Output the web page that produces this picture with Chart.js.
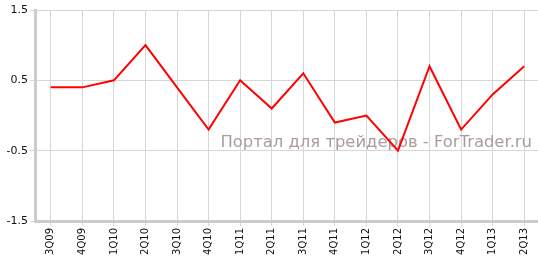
<!DOCTYPE html>
<html>
<head>
<meta charset="utf-8">
<script src="https://cdn.jsdelivr.net/npm/chart.js@4/dist/chart.umd.min.js"></script>
<style>
html,body{margin:0;padding:0;background:#fff;overflow:hidden;}
#wrap{width:540px;height:261px;}
</style>
</head>
<body>
<div id="wrap"><canvas id="c" width="540" height="261"></canvas></div>
<script>
const categories = ["3Q09","4Q09","1Q10","2Q10","3Q10","4Q10","1Q11","2Q11","3Q11","4Q11","1Q12","2Q12","3Q12","4Q12","1Q13","2Q13"];
const values = [0.4,0.4,0.5,1.0,0.4,-0.2,0.5,0.1,0.6,-0.1,0.0,-0.5,0.7,-0.2,0.3,0.7];
const yTicks = [-1.5,-0.5,0.5,1.5];
const watermark = "Портал для трейдеров - ForTrader.ru";

const watermarkPlugin = {
  id: 'watermark',
  beforeDatasetsDraw(chart) {
    const ctx = chart.ctx;
    ctx.save();
    ctx.font = '16.4px "DejaVu Sans"';
    ctx.fillStyle = '#ab9c9c';
    ctx.textAlign = 'right';
    ctx.textBaseline = 'alphabetic';
    ctx.fillText(watermark, 532, 147);
    ctx.restore();
  }
};

new Chart(document.getElementById('c'), {
  type: 'line',
  data: {
    labels: categories,
    datasets: [{
      data: values,
      borderColor: '#ff0000',
      borderWidth: 2,
      pointRadius: 0,
      tension: 0,
      fill: false
    }]
  },
  options: {
    responsive: false,
    animation: false,
    layout: { padding: { top: 10, right: 0, left: 0, bottom: 0 } },
    plugins: { legend: { display: false }, tooltip: { enabled: false } },
    scales: {
      x: {
        offset: true,
        grid: { color: '#d6d6d6', lineWidth: 1, tickLength: 5, drawTicks: true },
        border: { color: '#cccccc', width: 3 },
        ticks: {
          autoSkip: false, minRotation: 90, maxRotation: 90,
          color: '#111', padding: 2,
          font: { family: '"DejaVu Sans"', size: 10 }
        },
        afterFit(s) { s.height = 40; }
      },
      y: {
        min: -1.5, max: 1.5,
        afterBuildTicks(s) { s.ticks = yTicks.map(v => ({ value: v })); },
        grid: { color: '#d6d6d6', lineWidth: 1, tickLength: 5 },
        border: { color: '#cccccc', width: 3 },
        ticks: {
          color: '#111', padding: 2,
          font: { family: '"DejaVu Sans"', size: 11 },
          callback: v => String(v)
        },
        afterFit(s) { s.width = 35; }
      }
    }
  },
  plugins: [watermarkPlugin]
});
</script>
</body>
</html>
